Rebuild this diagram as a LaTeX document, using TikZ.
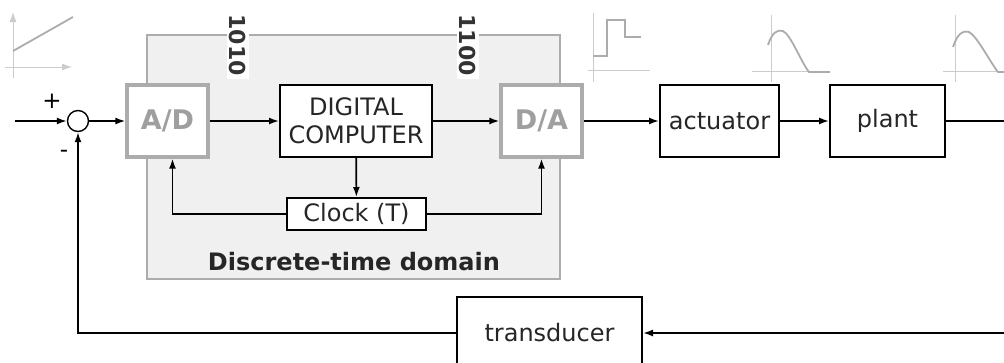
\documentclass[tikz,border=0pt]{standalone}
\usepackage{fontspec}
\setmainfont{DejaVu Sans}
\usetikzlibrary{arrows.meta}
\begin{document}
\begin{tikzpicture}[x=1pt, y=-1pt,
    >={Latex[length=10pt,width=7pt]},
    block/.style={rectangle, draw, line width=2pt, fill=white, minimum height=72pt,
                  align=center, inner sep=2pt, text=black!85, font=\fontsize{24}{28}\selectfont},
    conv/.style={rectangle, draw=gray!65, line width=3.2pt, fill=white, minimum width=81pt,
                 minimum height=72pt, text=gray!75, font=\bfseries\fontsize{27}{30}\selectfont},
    sum/.style={circle, draw, line width=1.4pt, minimum size=21pt, inner sep=0pt, fill=white},
    bits/.style={rotate=-90, fill=white, inner sep=3pt, text=black!80,
                 font=\bfseries\fontsize{22}{26}\selectfont},
    wave/.style={gray!65, line width=1.8pt},
    axis/.style={gray!40, line width=0.9pt},
    wire/.style={line width=1.7pt}
]
    \useasboundingbox (0,0) rectangle (1004,362);
    \clip (0,0) rectangle (1004,362);

    % discrete-time domain
    \draw[gray!65, fill=gray!12, line width=1.2pt] (147,35) rectangle (560,279);
    \node[bits] (bitsin) at (238,45) {1010};
    \node[bits] (bitsout) at (468,45) {1100};
    \node[text=black!85, font=\bfseries\fontsize{24}{28}\selectfont] (domlabel) at (354,262) {Discrete-time domain};

    % blocks
    \node[sum] (sum) at (78,121) {};
    \node[conv] (ad) at (167.5,121) {A/D};
    \node[block, minimum width=152pt] (dc) at (356,121) {DIGITAL\\COMPUTER};
    \node[conv] (da) at (541.5,121) {D/A};
    \node[block, minimum width=139pt, minimum height=32pt] (clk) at (356.5,214) {Clock (T)};
    \node[block, minimum width=119pt] (act) at (719.5,121) {actuator};
    \node[block, minimum width=115pt] (plant) at (887.5,121) {plant};
    \node[block, minimum width=185pt, minimum height=72pt] (trans) at (549.5,333) {transducer};

    \node[font=\fontsize{23}{26}\selectfont] (plus) at (52,101) {+};
    \node[font=\fontsize{23}{26}\selectfont] (minus) at (64,154) {-};

    % connectors
    \coordinate (in) at (15,121);
    \coordinate (out) at (1004,121);
    \coordinate (fb) at (1004,333);
    \draw[wire,->] (in) -- (sum.west);
    \draw[wire,->] (sum) -- (ad);
    \draw[wire,->] (ad) -- (dc);
    \draw[wire,->] (dc) -- (da);
    \draw[wire,->] (da) -- (act);
    \draw[wire,->] (act) -- (plant);
    \draw[wire] (plant) -- (out);
    \draw[wire,->] (fb) -- (trans.east);
    \draw[wire,->] (trans.west) -| (sum.south);
    \draw[wire,->] (dc) -- (clk);
    \draw[wire,->] (clk.west) -| ([xshift=5pt]ad.south);
    \draw[wire,->] (clk.east) -| (da.south);

    % signal sketches
    \draw[axis,->] (13,78) -- (13,12);
    \draw[axis,->] (5,67) -- (72,67);
    \draw[wave] (13,51) -- (73,17);

    \draw[axis] (593,82) -- (593,13);
    \draw[axis] (588,70) -- (650,70);
    \draw[wave] (593,56) -- (607,56) -- (607,20) -- (625,20) -- (625,37) -- (641,37);

    \draw[axis] (771,82) -- (771,15);
    \draw[axis] (752,71) -- (830,71);
    \draw[wave] (768,45) .. controls (772,33) and (777,29) .. (783,31)
        .. controls (791,35) and (801,62) .. (809,72) -- (830,72);

    \draw[axis] (955,82) -- (955,15);
    \draw[axis] (943,71) -- (1004,71);
    \draw[wave] (953,47) .. controls (957,35) and (962,30) .. (969,32)
        .. controls (977,36) and (990,62) .. (998,72) -- (1010,72);
\end{tikzpicture}
\end{document}
